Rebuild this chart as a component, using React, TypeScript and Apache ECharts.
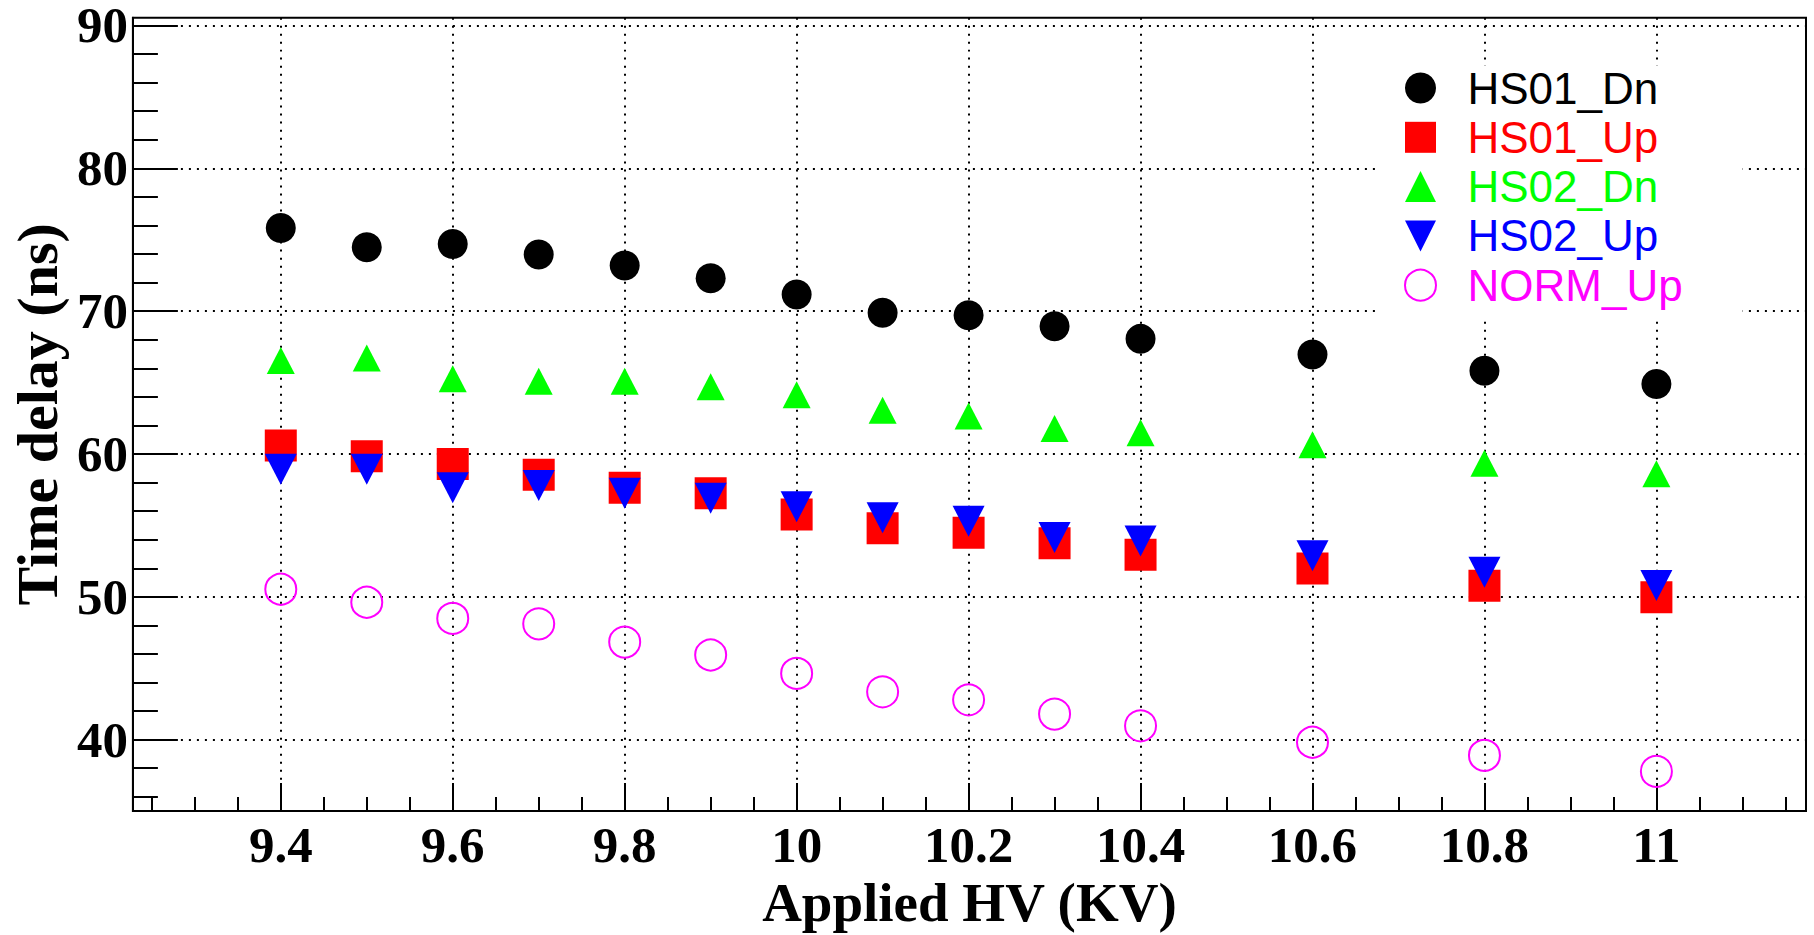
import React, { useEffect, useRef } from 'react';
import * as echarts from 'echarts';

// Applied HV (KV)
const HV = [9.4, 9.5, 9.6, 9.7, 9.8, 9.9, 10.0, 10.1, 10.2, 10.3, 10.4, 10.6, 10.8, 11.0];
// Time delay (ns)
const HS01_Dn = [75.82, 74.47, 74.7, 73.96, 73.2, 72.3, 71.17, 69.89, 69.71, 68.94, 68.06, 66.97, 65.83, 64.9];
const HS01_Up = [60.6, 59.84, 59.3, 58.54, 57.63, 57.26, 55.76, 54.8, 54.48, 53.75, 52.94, 51.98, 50.77, 49.97];
const HS02_Dn = [66.55, 66.72, 65.26, 65.09, 65.09, 64.71, 64.14, 63.06, 62.66, 61.78, 61.49, 60.64, 59.35, 58.61];
const HS02_Up = [58.93, 58.93, 57.63, 57.8, 57.26, 56.91, 56.3, 55.53, 55.29, 54.16, 53.91, 52.87, 51.73, 50.8];
const NORM_Up = [50.53, 49.62, 48.49, 48.11, 46.83, 45.93, 44.64, 43.35, 42.79, 41.79, 40.97, 39.82, 38.9, 37.78];

const SERIES_NAMES = ['HS01_Dn', 'HS01_Up', 'HS02_Dn', 'HS02_Up', 'NORM_Up'];
const SERIES_COLORS = ['#000000', '#ff0000', '#00ff00', '#0000ff', '#ff00ff'];

// axis ranges and ticks
const X_MIN = 9.228;
const X_MAX = 11.174;
const Y_MIN = 35;
const Y_MAX = 90.55;
const X_MAJOR = [9.4, 9.6, 9.8, 10, 10.2, 10.4, 10.6, 10.8, 11];
const X_MINOR = [9.25, 9.3, 9.35, 9.45, 9.5, 9.55, 9.65, 9.7, 9.75, 9.85, 9.9, 9.95, 10.05, 10.1, 10.15,
  10.25, 10.3, 10.35, 10.45, 10.5, 10.55, 10.65, 10.7, 10.75, 10.85, 10.9, 10.95, 11.05, 11.1, 11.15];
const Y_MAJOR = [40, 50, 60, 70, 80, 90];
const Y_MINOR = [36, 38, 42, 44, 46, 48, 52, 54, 56, 58, 62, 64, 66, 68, 72, 74, 76, 78, 82, 84, 86, 88];

const SQUARE = 'path://M0,0L10,0L10,10L0,10Z';
const UP_TRIANGLE = 'path://M5,0L10,10L0,10Z';
const DOWN_TRIANGLE = 'path://M0,0L10,0L5,10Z';
const LEGEND_ICONS = ['circle', SQUARE, UP_TRIANGLE, DOWN_TRIANGLE, 'circle'];

export default function App() {
  const ref = useRef<HTMLDivElement>(null);

  useEffect(() => {
    const chart = echarts.init(ref.current!, null, { renderer: 'svg' });
    const serif = 'Liberation Serif';
    const dotted = { color: '#000', width: 2, type: [2, 6] as number[] };

    const mk = (vals: number[]) => HV.map((x, i) => [x, vals[i]]);

    const option: any = {
      animation: false,
      backgroundColor: '#fff',
      grid: {
        left: 127, top: 16, right: 8, bottom: 122,
        show: true, borderColor: '#000', borderWidth: 2, backgroundColor: 'transparent',
        containLabel: false,
      },
      xAxis: [
        {
          type: 'value', min: X_MIN, max: X_MAX, position: 'bottom',
          name: 'Applied HV (KV)', nameLocation: 'middle', nameGap: 53,
          nameTextStyle: { fontFamily: serif, fontWeight: 'bold', fontSize: 55, color: '#000' },
          axisLine: { show: true, lineStyle: { color: '#000', width: 2 } },
          axisTick: { show: true, inside: true, length: 28, customValues: X_MAJOR, lineStyle: { color: '#000', width: 2 } },
          axisLabel: { show: true, customValues: X_MAJOR, margin: 8, fontFamily: serif, fontWeight: 'bold', fontSize: 51, color: '#000' },
          splitLine: { show: true, lineStyle: dotted },
        },
        {
          type: 'value', min: X_MIN, max: X_MAX, position: 'bottom',
          axisLine: { show: false },
          axisTick: { show: true, inside: true, length: 14, customValues: X_MINOR, lineStyle: { color: '#000', width: 2 } },
          axisLabel: { show: false },
          splitLine: { show: false },
        },
      ],
      yAxis: [
        {
          type: 'value', min: Y_MIN, max: Y_MAX, position: 'left',
          name: 'Time delay (ns)', nameLocation: 'middle', nameGap: 66,
          nameTextStyle: { fontFamily: serif, fontWeight: 'bold', fontSize: 58, color: '#000' },
          axisLine: { show: true, lineStyle: { color: '#000', width: 2 } },
          axisTick: { show: true, inside: true, length: 45, customValues: Y_MAJOR, lineStyle: { color: '#000', width: 2 } },
          axisLabel: {
            show: true, customValues: Y_MAJOR, margin: 5, fontFamily: serif, fontWeight: 'bold',
            fontSize: 51, lineHeight: 40, padding: [6, 0, 0, 0], color: '#000',
          },
          splitLine: { show: true, lineStyle: dotted },
        },
        {
          type: 'value', min: Y_MIN, max: Y_MAX, position: 'left',
          axisLine: { show: false },
          axisTick: { show: true, inside: true, length: 25, customValues: Y_MINOR, lineStyle: { color: '#000', width: 2 } },
          axisLabel: { show: false },
          splitLine: { show: false },
        },
      ],
      legend: {
        orient: 'vertical',
        left: 1378, top: 66,
        padding: [0, 60, 10, 26],
        backgroundColor: '#fff',
        itemWidth: 84, itemHeight: 31, itemGap: 5.3,
        symbolKeepAspect: true,
        textStyle: { fontFamily: 'Liberation Sans', fontSize: 44, lineHeight: 44 },
        data: SERIES_NAMES.map((n, i) => {
          const item: any = { name: n, icon: LEGEND_ICONS[i], textStyle: { color: SERIES_COLORS[i] } };
          if (i === 4) item.itemStyle = { color: 'transparent', borderColor: SERIES_COLORS[i], borderWidth: 2 };
          return item;
        }),
        selectedMode: false,
      },
      series: [
        { name: SERIES_NAMES[0], type: 'scatter', data: mk(HS01_Dn), symbol: 'circle', symbolSize: 30,
          itemStyle: { color: SERIES_COLORS[0], opacity: 1 } },
        { name: SERIES_NAMES[1], type: 'scatter', data: mk(HS01_Up), symbol: 'rect', symbolSize: 32,
          itemStyle: { color: SERIES_COLORS[1], opacity: 1 } },
        { name: SERIES_NAMES[2], type: 'scatter', data: mk(HS02_Dn), symbol: 'triangle', symbolSize: [28, 27],
          itemStyle: { color: SERIES_COLORS[2], opacity: 1 } },
        { name: SERIES_NAMES[3], type: 'scatter', data: mk(HS02_Up), symbol: DOWN_TRIANGLE, symbolSize: [32, 31],
          itemStyle: { color: SERIES_COLORS[3], opacity: 1 } },
        { name: SERIES_NAMES[4], type: 'scatter', data: mk(NORM_Up), symbol: 'circle', symbolSize: 31,
          itemStyle: { color: 'transparent', borderColor: SERIES_COLORS[4], borderWidth: 2, opacity: 1 } },
      ],
    };

    chart.setOption(option);
    return () => chart.dispose();
  }, []);

  return (
    <div
      ref={ref}
      style={{ position: 'fixed', left: 0, top: 0, width: 1814, height: 935, background: '#fff' }}
    />
  );
}
